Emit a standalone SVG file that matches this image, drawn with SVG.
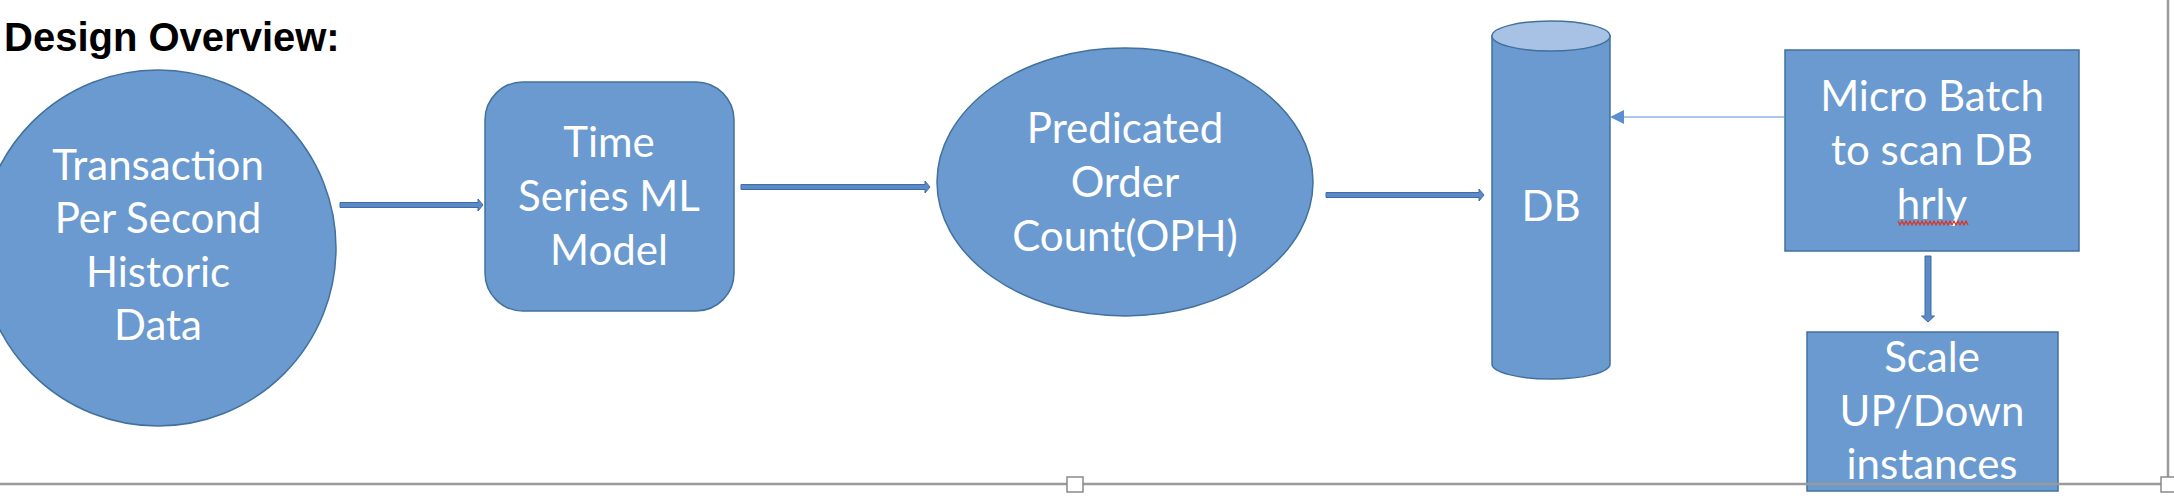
<svg xmlns="http://www.w3.org/2000/svg" width="2174" height="498" viewBox="0 0 2174 498">
  <style>
    .shape { fill: #6a9acf; stroke: #41719c; stroke-width: 1.5; }
    .lbl { font-family: Lato, "Open Sans", "Liberation Sans", sans-serif; font-size: 42px; fill: #ffffff; text-anchor: middle; }
    .blk { fill: #5b8bc6; stroke: #3f6ba3; stroke-width: 1; }
    .title { font-family: "Liberation Sans", Arial, sans-serif; font-weight: bold; font-size: 40px; fill: #000000; }
    .frame { stroke: #9a9a9a; stroke-width: 2.5; fill: none; }
    .handle { fill: #ffffff; stroke: #8a8a8a; stroke-width: 1.5; }
  </style>
  <rect x="0" y="0" width="2174" height="498" fill="#ffffff"/>

  <g id="node-transaction">
    <circle class="shape" cx="158" cy="248" r="178"/>
    <text class="lbl" x="158" y="180">Transaction</text>
    <text class="lbl" x="158" y="233">Per Second</text>
    <text class="lbl" x="158" y="287">Historic</text>
    <text class="lbl" x="158" y="340">Data</text>
  </g>

  <g id="node-model">
    <rect class="shape" x="485" y="82" width="249" height="229" rx="38" ry="38"/>
    <text class="lbl" x="609" y="157">Time</text>
    <text class="lbl" x="609" y="211">Series ML</text>
    <text class="lbl" x="609" y="265">Model</text>
  </g>

  <g id="node-predicted">
    <ellipse class="shape" cx="1125" cy="182" rx="188" ry="134"/>
    <text class="lbl" x="1125" y="143">Predicated</text>
    <text class="lbl" x="1125" y="197">Order</text>
    <text class="lbl" x="1125" y="251">Count(OPH)</text>
  </g>

  <g id="node-db">
    <path class="shape" d="M1492,36 V364 A59,15 0 0 0 1610,364 V36 Z"/>
    <ellipse cx="1551" cy="36" rx="59" ry="15" fill="#a7c2e4" stroke="#41719c" stroke-width="1.5"/>
    <text class="lbl" x="1551" y="221">DB</text>
  </g>

  <g id="node-microbatch">
    <rect class="shape" x="1785" y="50" width="294" height="201"/>
    <text class="lbl" x="1932" y="111">Micro Batch</text>
    <text class="lbl" x="1932" y="165">to scan DB</text>
    <text class="lbl" x="1932" y="219">hrly</text>
    <polyline points="1898,221 1900,225 1902,221 1904,225 1906,221 1908,225 1910,221 1912,225 1914,221 1916,225 1918,221 1920,225 1922,221 1924,225 1926,221 1928,225 1930,221 1932,225 1934,221 1936,225 1938,221 1940,225 1942,221 1944,225 1946,221 1948,225 1950,221 1952,225 1954,221 1956,225 1958,221 1960,225 1962,221 1964,225 1966,221 1968,225" fill="none" stroke="#e0301e" stroke-width="1.2"/>
  </g>

  <g id="node-scale">
    <rect class="shape" x="1807" y="332" width="251" height="159"/>
    <text class="lbl" x="1932" y="372">Scale</text>
    <text class="lbl" x="1932" y="426">UP/Down</text>
    <text class="lbl" x="1932" y="479">instances</text>
  </g>

  <g id="connectors">
    <path class="blk" d="M340,202.5 H478 V199 L483,205 L478,211 V207.5 H340 Z"/>
    <path class="blk" d="M741,184.5 H925 V181 L930,187 L925,193 V189.5 H741 Z"/>
    <path class="blk" d="M1326,192.5 H1479 V189 L1484,195 L1479,201 V197.5 H1326 Z"/>
    <path class="blk" d="M1925,256 V316 H1921.5 L1928,322 L1934.5,316 H1931 V256 Z"/>
    <line x1="1785" y1="117" x2="1622" y2="117" stroke="#5b8fd0" stroke-width="1.2"/>
    <polygon points="1610,117 1624,110 1624,124" fill="#5b8fd0"/>
  </g>

  <g id="frame">
    <line class="frame" x1="0" y1="484" x2="2168" y2="484"/>
    <line class="frame" x1="2168" y1="0" x2="2168" y2="484"/>
    <rect class="handle" x="1067" y="477" width="16" height="15"/>
    <rect class="handle" x="2161" y="477" width="16" height="15"/>
  </g>

  <text class="title" x="4" y="51">Design Overview:</text>
</svg>
